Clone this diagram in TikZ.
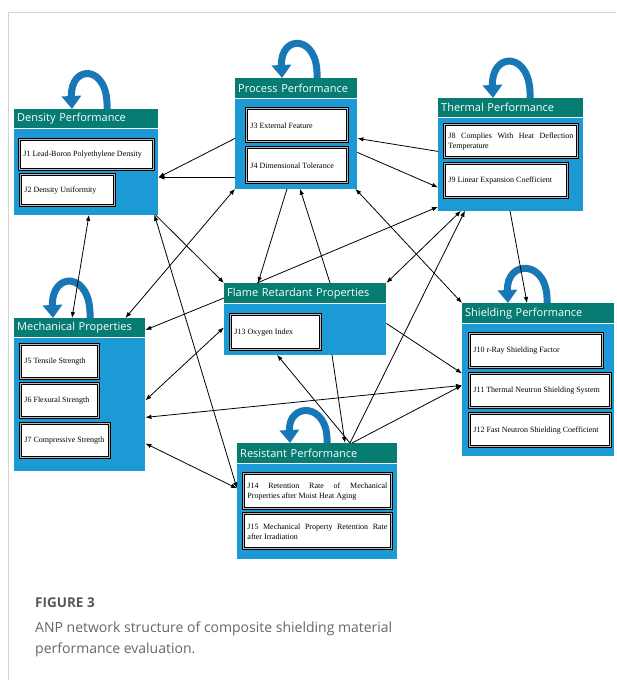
\documentclass[tikz,border=0pt]{standalone}
\usepackage{fontspec}
\setmainfont{Liberation Serif}
\newfontfamily\headfont{Open Sans}
\usetikzlibrary{arrows.meta}
\definecolor{headteal}{RGB}{6,124,114}
\definecolor{bodyblue}{RGB}{28,154,214}
\definecolor{loopblue}{RGB}{24,120,182}
\definecolor{framegray}{RGB}{212,212,212}
\definecolor{capgray}{RGB}{102,102,102}

\begin{document}
\begin{tikzpicture}[x=1pt, y=-1pt, >={Latex[length=6pt,width=4.5pt]},
    head node/.style={anchor=north west, fill=headteal, text=white, text width=#1, align=left,
      inner xsep=3pt, inner ysep=0pt, minimum height=19pt, font=\headfont\fontsize{11}{12}\selectfont},
    body node/.style={anchor=north west, fill=bodyblue, inner sep=0pt},
    item node/.style={anchor=north west, draw=black, line width=0.9pt, double=gray!55,
      double distance=1.2pt, fill=white, text width=#1, align=justify, inner xsep=4pt,
      inner ysep=1pt, font=\fontsize{8}{10}\selectfont},
    loopy/.style={draw=loopblue, line width=7pt, -{Triangle[width=19pt,length=13pt]}}]

  \useasboundingbox (0,0) rectangle (616,680);
  \draw[framegray, line width=1pt] (8,680) -- (8,12) -- (616,12);

  \node[head node=138pt] (dens-h) at (14,109) {Density Performance};
  \node[body node, minimum width=144pt, minimum height=86pt] (dens) at (dens-h.south west) {};
  \node[item node=126pt, minimum height=30pt] (j1) at ([shift={(5,11)}]dens.north west) {J1 Lead-Boron Polyethylene Density};
  \node[item node=86pt, minimum height=31pt] (j2) at ([shift={(6,46)}]dens.north west) {J2 Density Uniformity};

  \node[head node=116pt, minimum height=20pt] (proc-h) at (235,78) {Process Performance};
  \node[body node, minimum width=122pt, minimum height=90pt] (proc) at (proc-h.south west) {};
  \node[item node=93pt, minimum height=33pt] (j3) at ([shift={(11,10)}]proc.north west) {J3 External Feature};
  \node[item node=93pt, minimum height=35pt] (j4) at ([shift={(11,49)}]proc.north west) {J4 Dimensional Tolerance};

  \node[head node=139pt] (therm-h) at (438,98) {Thermal Performance};
  \node[body node, minimum width=145pt, minimum height=93pt] (therm) at (therm-h.south west) {};
  \node[item node=125pt, minimum height=33pt] (j8) at ([shift={(6,7)}]therm.north west) {J8 Complies With Heat Deflection\linebreak Temperature};
  \node[item node=115pt, minimum height=34pt] (j9) at ([shift={(6,46)}]therm.north west) {J9 Linear Expansion Coefficient};

  \node[head node=125pt] (mech-h) at (14,318) {Mechanical Properties};
  \node[body node, minimum width=131pt, minimum height=133pt] (mech) at (mech-h.south west) {};
  \node[item node=70pt, minimum height=34pt] (j5) at ([shift={(6,7)}]mech.north west) {J5 Tensile Strength};
  \node[item node=70pt, minimum height=34pt] (j6) at ([shift={(6,46)}]mech.north west) {J6 Flexural Strength};
  \node[item node=81pt, minimum height=34pt] (j7) at ([shift={(6,86)}]mech.north west) {J7 Compressive Strength};

  \node[head node=156pt, minimum height=20pt] (flame-h) at (224,283) {Flame Retardant Properties};
  \node[body node, minimum width=162pt, minimum height=51pt] (flame) at (flame-h.south west) {};
  \node[item node=82pt, minimum height=35pt] (j13) at ([shift={(6,11)}]flame.north west) {J13 Oxygen Index};

  \node[head node=146pt, minimum height=20pt] (shield-h) at (462,303) {Shielding Performance};
  \node[body node, minimum width=152pt, minimum height=132pt] (shield) at (shield-h.south west) {};
  \node[item node=125pt, minimum height=34pt] (j10) at ([shift={(7,10)}]shield.north west) {J10 r-Ray Shielding Factor};
  \node[item node=133pt, minimum height=34pt] (j11) at ([shift={(7,50)}]shield.north west) {J11 Thermal Neutron Shielding System};
  \node[item node=133pt, minimum height=33pt] (j12) at ([shift={(7,90)}]shield.north west) {J12 Fast Neutron Shielding Coefficient};

  \node[head node=154pt, minimum height=20pt] (resist-h) at (237,443) {Resistant Performance};
  \node[body node, minimum width=160pt, minimum height=95pt] (resist) at (resist-h.south west) {};
  \node[item node=140pt, minimum height=35pt] (j14) at ([shift={(6,10)}]resist.north west) {J14 Retention Rate of Mechanical\linebreak Properties after Moist Heat Aging};
  \node[item node=140pt, minimum height=35pt] (j15) at ([shift={(6,50)}]resist.north west) {J15 Mechanical Property Retention Rate\linebreak after Irradiation};

  \draw[loopy] ([shift={(93,0)}]dens-h.north west) .. controls +(2,-45) and +(-2,-45) .. ([shift={(58,0)}]dens-h.north west);
  \draw[loopy] ([shift={(82,0)}]proc-h.north west) .. controls +(2,-44) and +(-2,-44) .. ([shift={(47,0)}]proc-h.north west);
  \draw[loopy] ([shift={(92,0)}]therm-h.north west) .. controls +(2,-47) and +(-2,-47) .. ([shift={(55,0)}]therm-h.north west);
  \draw[loopy] ([shift={(76,0)}]mech-h.north west) .. controls +(2,-47) and +(-2,-47) .. ([shift={(39,0)}]mech-h.north west);
  \draw[loopy] ([shift={(85,0)}]shield-h.north west) .. controls +(2,-44) and +(-2,-44) .. ([shift={(46,0)}]shield-h.north west);
  \draw[loopy] ([shift={(90,0)}]resist-h.north west) .. controls +(2,-41) and +(-2,-41) .. ([shift={(53,0)}]resist-h.north west);

  \path[every edge/.append style={line width=0.8pt}]
    ([shift={(0,40)}]proc.north west) edge[->] ([shift={(0,49)}]dens.north east)
    ([shift={(0,79)}]proc.north west) edge[->] ([shift={(0,49)}]dens.north east)
    ([shift={(-20,0)}]mech-h.north east) edge[<->] (proc.south west)
    ([shift={(-3,0)}]dens.south east) edge[->] (flame-h.north west)
    ([shift={(-4,0)}]dens.south east) edge[<->] ([shift={(0,25)}]resist.north west)
    ([shift={(75,0)}]dens.south west) edge[<->] ([shift={(58,0)}]mech-h.north west)
    ([shift={(52,0)}]proc.south west) edge[->] ([shift={(34,0)}]flame-h.north west)
    ([shift={(106,0)}]flame-h.north west) edge[->] ([shift={(65,0)}]proc.south west)
    ([shift={(-2,0)}]proc.south east) edge[<->] (shield-h.north west)
    ([shift={(33,0)}]flame-h.north west) edge[->] ([shift={(0,-4)}]therm.south west)
    (flame-h.north east) edge[<->] ([shift={(23,0)}]therm.south west)
    ([shift={(113,0)}]resist-h.north west) edge[->] ([shift={(27,0)}]therm.south west)
    ([shift={(0,34)}]therm.north west) edge[->] ([shift={(0,40)}]proc.north east)
    ([shift={(0,54)}]proc.north east) edge[->] ([shift={(0,70)}]therm.north west)
    ([shift={(72,0)}]therm.south west) edge[->] ([shift={(65,0)}]shield-h.north west)
    ([shift={(0,15)}]flame-h.north west) edge[->] ([shift={(0,12)}]mech-h.north east)
    ([shift={(0,63)}]mech.north east) edge[<->] ([shift={(0,24)}]flame.north west)
    ([shift={(0,80)}]mech.north east) edge[<->] ([shift={(0,62)}]shield.north west)
    ([shift={(0,106)}]mech.north east) edge[<->] ([shift={(0,25)}]resist.north west)
    ([shift={(0,20)}]flame.north east) edge[->] ([shift={(0,50)}]shield.north west)
    ([shift={(108,0)}]flame.south west) edge[->] ([shift={(108,0)}]resist-h.north west)
    ([shift={(113,0)}]resist-h.north west) edge[->] ([shift={(53,0)}]flame.south west)
    ([shift={(115,0)}]resist-h.north west) edge[->] ([shift={(0,62)}]shield.north west);

  \node[anchor=base west, inner sep=0pt, text=capgray!85!black, font=\headfont\bfseries\fontsize{13.5}{16}\selectfont] (fig) at (35,607) {FIGURE 3};
  \node[anchor=base west, inner sep=0pt, text=capgray, align=left, font=\headfont\fontsize{14}{21}\selectfont] (cap) at (35,653) {ANP network structure of composite shielding material\\performance evaluation.};
\end{tikzpicture}
\end{document}
